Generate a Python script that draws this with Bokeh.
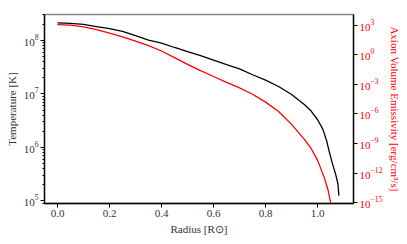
from bokeh.plotting import figure
from bokeh.models import Range1d, LogAxis, LogScale, FixedTicker, LogTickFormatter, PrintfTickFormatter
from bokeh.embed import file_html
from bokeh.resources import INLINE

radius = [0.00, 0.05, 0.10, 0.15, 0.20, 0.25, 0.30, 0.35, 0.40, 0.45, 0.50, 0.55, 0.60,
          0.65, 0.70, 0.75, 0.80, 0.85, 0.90, 0.95, 0.975, 1.00, 1.02, 1.035, 1.045,
          1.057, 1.069, 1.078, 1.082]
temperature_K = [2.14e8, 2.09e8, 2.0e8, 1.82e8, 1.66e8, 1.48e8, 1.23e8, 1.02e8, 8.9e7,
                 7.4e7, 6.2e7, 5.2e7, 4.3e7, 3.55e7, 2.95e7, 2.29e7, 1.82e7, 1.38e7,
                 9.8e6, 6.3e6, 4.8e6, 3.3e6, 2.2e6, 1.32e6, 8.3e5, 5.0e5, 3.2e5, 2.1e5,
                 1.26e5]

radius_em = [0.00, 0.05, 0.10, 0.15, 0.20, 0.25, 0.30, 0.35, 0.40, 0.45, 0.50, 0.55, 0.60,
             0.65, 0.70, 0.75, 0.80, 0.85, 0.90, 0.95, 0.975, 1.00, 1.025, 1.04, 1.05, 1.055]
emissivity = [1.12e3, 1.0e3, 6.6e2, 3.5e2, 1.6e2, 66, 24, 8.3, 2.4, 0.52, 0.105, 2.5e-2,
              6.3e-3, 1.6e-3, 4.5e-4, 1.0e-4, 1.6e-5, 1.8e-6, 8.9e-8, 2.5e-9, 3.2e-10,
              2.0e-11, 4.0e-13, 2.0e-14, 1.0e-15, 2.5e-16]

x_ticks = [0.0, 0.2, 0.4, 0.6, 0.8, 1.0]
left_ticks = [1e5, 1e6, 1e7, 1e8]
right_ticks = [1e3, 1e0, 1e-3, 1e-6, 1e-9, 1e-12, 1e-15]

FONT = "Liberation Serif"

p = figure(width=407, height=244, y_axis_type="log",
           x_range=Range1d(-0.05, 1.138), y_range=Range1d(10**4.953, 10**8.486),
           output_backend="svg", toolbar_location=None,
           min_border_left=44, min_border_right=54, min_border_top=14, min_border_bottom=41)
p.extra_y_ranges = {"em": Range1d(10**-15.07, 10**4.08)}
p.extra_y_scales = {"em": LogScale()}

p.xgrid.visible = False
p.ygrid.visible = False
p.outline_line_color = "#888888"
p.outline_line_width = 1.5
p.background_fill_color = "white"

p.line(radius, temperature_K, line_color="black", line_width=1.3)
p.line(radius_em, emissivity, line_color="red", line_width=1.3, y_range_name="em")

minor_left = [m * 10**e for e in range(4, 9) for m in range(2, 10)]

xa = p.xaxis[0]
xa.ticker = FixedTicker(ticks=x_ticks)
xa.formatter = PrintfTickFormatter(format="%.1f")
xa.axis_label = "Radius [R\u2299]"

ya = p.yaxis[0]
ya.ticker = FixedTicker(ticks=left_ticks, minor_ticks=minor_left)
ya.formatter = LogTickFormatter()
ya.axis_label = "Temperature [K]"

ra = LogAxis(y_range_name="em", ticker=FixedTicker(ticks=right_ticks),
             formatter=LogTickFormatter(),
             axis_label="Axion Volume Emissivity [erg/cm\u00b3/s]")
p.add_layout(ra, "right")

for ax in [xa, ya, ra]:
    ax.axis_line_color = "black"
    ax.axis_line_width = 1.3
    ax.major_tick_line_color = "black"
    ax.minor_tick_line_color = "black"
    ax.major_tick_in = 0
    ax.major_tick_out = 4
    ax.minor_tick_in = 0
    ax.minor_tick_out = 2
    ax.major_label_text_font = FONT
    ax.major_label_text_font_size = "11px"
    ax.major_label_text_color = "#333333"
    ax.axis_label_text_font = FONT
    ax.axis_label_text_font_size = "11px"
    ax.axis_label_text_font_style = "normal"
    ax.axis_label_text_color = "#333333"
    ax.major_label_standoff = 2
    ax.axis_label_standoff = 3

xa.minor_tick_line_color = None
ra.minor_tick_line_color = None
ra.major_label_text_color = "red"
ra.axis_label_text_color = "red"

open("out.html", "w").write(file_html(p, INLINE))
